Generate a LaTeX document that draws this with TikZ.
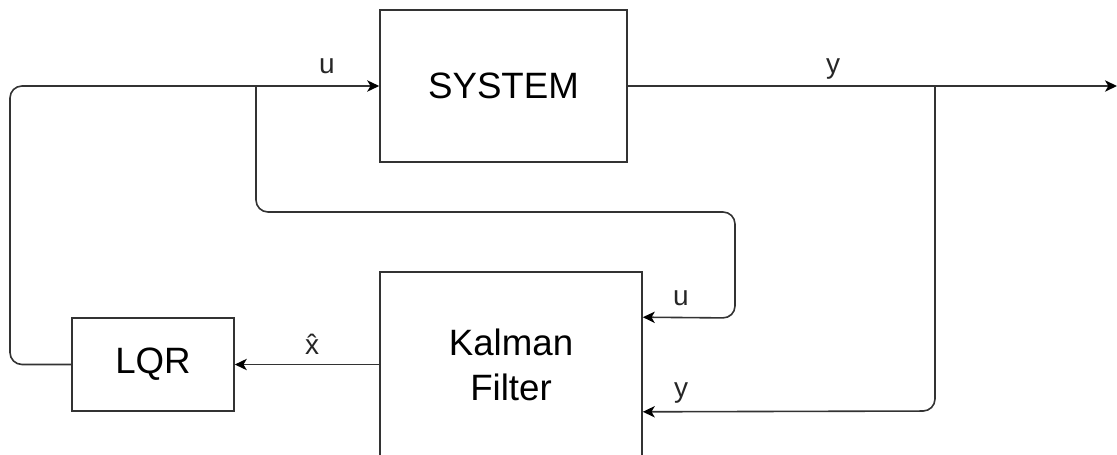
\documentclass[tikz,border=0pt]{standalone}
\usepackage{fontspec}
\setmainfont{Liberation Sans}
\usetikzlibrary{arrows.meta,calc}
\begin{document}
\begin{tikzpicture}[x=0.75pt,y=-0.75pt,
  line/.style={draw=black!80, line width=1.2pt},
  arr/.style={line, -{Stealth[length=9pt,width=8.5pt,inset=2.5pt,black]}},
  blockbox/.style={draw=black!80, line width=1.2pt, rectangle, inner sep=0pt, font=\fontsize{27.5pt}{33.5pt}\selectfont, align=center},
  lbl/.style={font=\fontsize{21pt}{25pt}\selectfont, inner sep=0pt, anchor=base, text=black!85}]
\useasboundingbox (0,0) rectangle (1117,454);
\node[blockbox, minimum width=185.25pt, minimum height=114pt] (sys) at (503.5,86) {SYSTEM};
\node[blockbox, minimum width=196.5pt, minimum height=139.5pt] (kf) at (511,365) {Kalman\\Filter};
\node[blockbox, minimum width=121.5pt, minimum height=69.75pt] (lqr) at (153,364.5) {LQR};
\coordinate (bu) at (256,86);
\coordinate (by) at (935,86);
\coordinate (yend) at (1117,86);
\coordinate (kfu) at (kf.east |- lqr.north);
\coordinate (kfy) at (kf.east |- lqr.south);
\draw[arr, rounded corners=9pt] (lqr.west) -- (10,364.5) -- (10,86) -- (sys.west);
\draw[arr] (sys.east) -- (yend);
\draw[arr, rounded corners=9pt] (bu) -- (256,212) -- (735,212) -- (735,318) -- (kfu);
\draw[arr, rounded corners=9pt] (by) -- (935,411) -- (kfy);
\draw[arr] (kf.west |- lqr.east) -- (lqr.east);
\node[lbl] (lu) at (327,73) {u};
\node[lbl] (ly) at (833,73) {y};
\node[lbl] (lu2) at (681,305) {u};
\node[lbl] (ly2) at (681,397) {y};
\node[lbl] (lx) at (312,354) {\^{x}};
\end{tikzpicture}
\end{document}
